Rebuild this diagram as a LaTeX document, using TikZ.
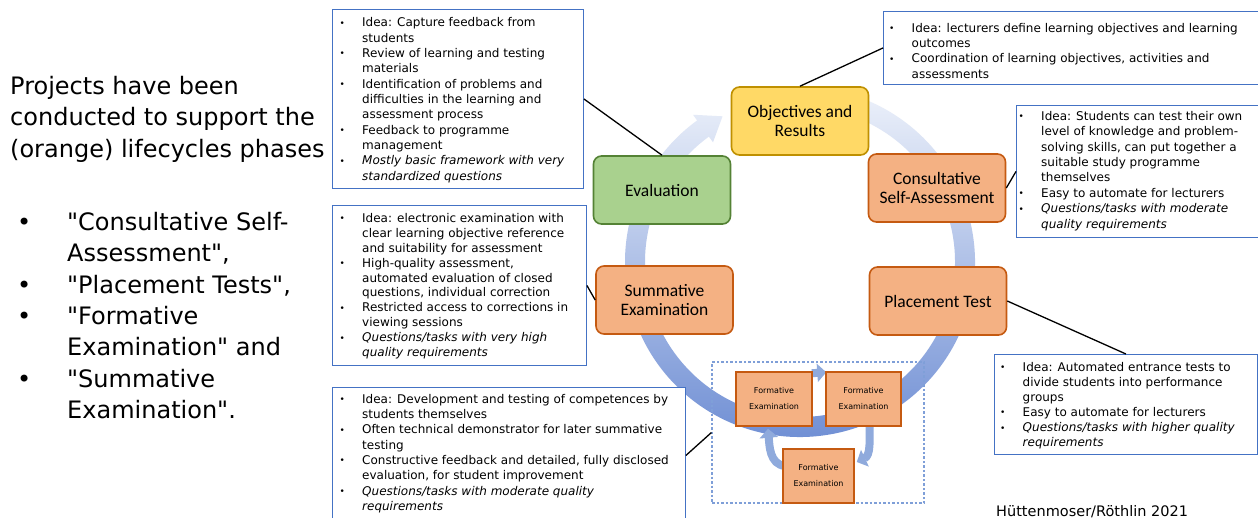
\documentclass[tikz,border=0pt]{standalone}
\usepackage{fontspec}
\setmainfont{DejaVu Sans}
\newfontfamily\calibfont{Carlito}
\usetikzlibrary{arrows.meta}
\pgfdeclarelayer{back}
\pgfdeclarelayer{bg}
\pgfsetlayers{back,bg,main}
\definecolor{boxblue}{HTML}{4472C4}
\definecolor{orfill}{HTML}{F4B183}
\definecolor{ordraw}{HTML}{C55A11}
\definecolor{yefill}{HTML}{FFD966}
\definecolor{yedraw}{HTML}{BF9000}
\definecolor{grfill}{HTML}{A9D18E}
\definecolor{grdraw}{HTML}{548235}
\definecolor{ringtop}{HTML}{F3F6FC}
\definecolor{ringmid}{HTML}{B0C3E9}
\definecolor{ringbot}{HTML}{6C8CD3}
\definecolor{formblue}{HTML}{8FAADC}
\definecolor{dashblue}{HTML}{7F9FD8}
\newcommand{\bu}{\rule{0pt}{10pt}\makebox[22.5pt][l]{\raisebox{0.6pt}{\fontsize{9}{9}\selectfont •}}}
\newcommand{\cu}{\rule{0pt}{10pt}\hspace*{22.5pt}}
\newcommand{\bigbu}{\rule{0pt}{20pt}\makebox[50pt][l]{•}}
\newcommand{\bigcu}{\rule{0pt}{20pt}\hspace*{50pt}}
\newcommand{\dq}{\textquotedbl}
\tikzset{
  phase/.style={rounded corners=8pt, line width=1.6pt, minimum width=137pt, minimum height=68pt,
    align=center, inner sep=0pt, font=\calibfont\fontsize{17.5}{19.5}\selectfont},
  orangephase/.style={phase, fill=orfill, draw=ordraw},
  infobox/.style={draw=boxblue, line width=0.9pt, fill=white, inner sep=0pt, anchor=north west},
  infotext/.style={anchor=north west, align=left, inner sep=0pt},
  formnode/.style={fill=orfill, draw=ordraw, line width=1.5pt, align=center, inner sep=0pt,
    font=\fontsize{8}{16}\selectfont},
  link/.style={line width=1.3pt, black},
  cyc/.style={line width=8pt, draw=formblue, -{Triangle[length=9pt,width=18pt]}},
  bigtext/.style={anchor=north west, align=left, inner sep=0pt, font=\fontsize{24}{31.4}\selectfont}
}
\begin{document}
\begin{tikzpicture}[x=1pt,y=1pt]
\useasboundingbox (0,0) rectangle (1258,-517);
\clip (0,0) rectangle (1258,-517);
\begin{pgfonlayer}{back}
\fill[white] (0,0) rectangle (1258,-517);
\end{pgfonlayer}

% left text
\node[bigtext] (title) at (10,-74) {\rule{0pt}{20pt}Projects have been\\\rule{0pt}{20pt}conducted to support the\\\rule{0pt}{20pt}(orange) lifecycles phases};
\node[bigtext] (list) at (17,-210) {\bigbu \dq Consultative Self-\\\bigcu Assessment\dq,\\\bigbu \dq Placement Tests\dq,\\\bigbu \dq Formative\\\bigcu Examination\dq{} and\\\bigbu \dq Summative\\\bigcu Examination\dq.};

% cycle ring
\begin{pgfonlayer}{bg}
\shade[top color=ringtop, middle color=ringmid, bottom color=ringbot]
  ([shift={(800,-262)}]100:175pt) arc[start angle=100, end angle=-234, radius=175pt]
  -- ([shift={(800,-262)}]126:182pt) -- ([shift={(800,-262)}]118:165pt)
  -- ([shift={(800,-262)}]126:148pt) -- ([shift={(800,-262)}]126:155pt)
  arc[start angle=126, end angle=460, radius=155pt] -- cycle;
\end{pgfonlayer}

% phase nodes
\node[phase, fill=yefill, draw=yedraw] (obj) at (800,-121) {Objectives and\\Results};
\node[phase, fill=grfill, draw=grdraw] (eval) at (662,-190) {Evaluation};
\node[orangephase] (cons) at (937,-188) {Consultative\\Self-Assessment};
\node[orangephase] (summ) at (664.5,-300) {Summative\\Examination};
\node[orangephase] (place) at (938,-301) {Placement Test};

% formative area
\node[draw=dashblue, dash pattern=on 2.5pt off 2pt, line width=1.1pt, minimum width=212pt, minimum height=141pt, inner sep=0pt] (fbox) at (818,-432.5) {};
\node[formnode, minimum width=76pt, minimum height=54pt] (f1) at (774,-399) {Formative\\Examination};
\node[formnode, minimum width=75pt, minimum height=54pt] (f2) at (863.5,-399) {Formative\\Examination};
\node[formnode, minimum width=71pt, minimum height=54pt] (f3) at (818.5,-476) {Formative\\Examination};
\begin{pgfonlayer}{bg}
\draw[cyc] ([xshift=-1pt,yshift=-2pt]f1.north east) -- ([xshift=1pt,yshift=-1pt]f2.north west);
\draw[cyc] ([xshift=6pt,yshift=3pt]f2.south) to[out=-90,in=25] ([xshift=2pt,yshift=14pt]f3.east);
\draw[cyc] ([xshift=3pt,yshift=10pt]f3.west) to[out=175,in=-85] ([xshift=-6pt,yshift=-2pt]f1.south);
\end{pgfonlayer}

% info boxes
\node[infobox, minimum width=251pt, minimum height=179pt] (b1) at (332,-9) {};
\node[infotext, font=\fontsize{12}{15.33}\selectfont] (t1) at (339.5,-16.7) {\bu Idea: Capture feedback from\\\cu students\\\bu Review of learning and testing\\\cu materials\\\bu Identification of problems and\\\cu difficulties in the learning and\\\cu assessment process\\\bu Feedback to programme\\\cu management\\\bu \textit{Mostly basic framework with very}\\\cu \textit{standardized questions}};

\node[infobox, minimum width=254pt, minimum height=160pt] (b2) at (332,-205) {};
\node[infotext, font=\fontsize{12}{14.95}\selectfont] (t2) at (339.5,-212) {\bu Idea: electronic examination with\\\cu clear learning objective reference\\\cu and suitability for assessment\\\bu High-quality assessment,\\\cu automated evaluation of closed\\\cu questions, individual correction\\\bu Restricted access to corrections in\\\cu viewing sessions\\\bu \textit{Questions/tasks with very high}\\\cu \textit{quality requirements}};

\node[infobox, minimum width=353pt, minimum height=136pt] (b3) at (332,-387) {};
\node[infotext, font=\fontsize{12}{15.3}\selectfont] (t3) at (339.5,-393) {\bu Idea: Development and testing of competences by\\\cu students themselves\\\bu Often technical demonstrator for later summative\\\cu testing\\\bu Constructive feedback and detailed, fully disclosed\\\cu evaluation, for student improvement\\\bu \textit{Questions/tasks with moderate quality}\\\cu \textit{requirements}};

\node[infobox, minimum width=380pt, minimum height=73pt] (b4) at (883,-11) {};
\node[infotext, font=\fontsize{12}{15.3}\selectfont] (t4) at (889,-22) {\bu Idea: lecturers define learning objectives and learning\\\cu outcomes\\\bu Coordination of learning objectives, activities and\\\cu assessments};

\node[infobox, minimum width=241.5pt, minimum height=132pt] (b5) at (1016,-105) {};
\node[infotext, font=\fontsize{12}{15.4}\selectfont] (t5) at (1018.5,-110) {\bu Idea: Students can test their own\\\cu level of knowledge and problem-\\\cu solving skills, can put together a\\\cu suitable study programme\\\cu themselves\\\bu Easy to automate for lecturers\\\bu \textit{Questions/tasks with moderate}\\\cu \textit{quality requirements}};

\node[infobox, minimum width=263pt, minimum height=100pt] (b6) at (994,-354) {};
\node[infotext, font=\fontsize{12}{15.1}\selectfont] (t6) at (1000,-361) {\bu Idea: Automated entrance tests to\\\cu divide students into performance\\\cu groups\\\bu Easy to automate for lecturers\\\bu \textit{Questions/tasks with higher quality}\\\cu \textit{requirements}};

% connectors
\draw[link] (eval.north) -- (b1.east);
\draw[link] (obj.north) -- (b4.west);
\draw[link] (cons.east) -- (b5.west);
\draw[link] (summ.west) -- (b2.east);
\draw[link] (place.east) -- (b6.north);
\draw[link] (b3.east) -- (fbox.west);

% citation
\node[anchor=base west, inner sep=0pt, font=\fontsize{14.5}{17}\selectfont] (cite) at (996,-516) {Hüttenmoser/Röthlin 2021};
\end{tikzpicture}
\end{document}
